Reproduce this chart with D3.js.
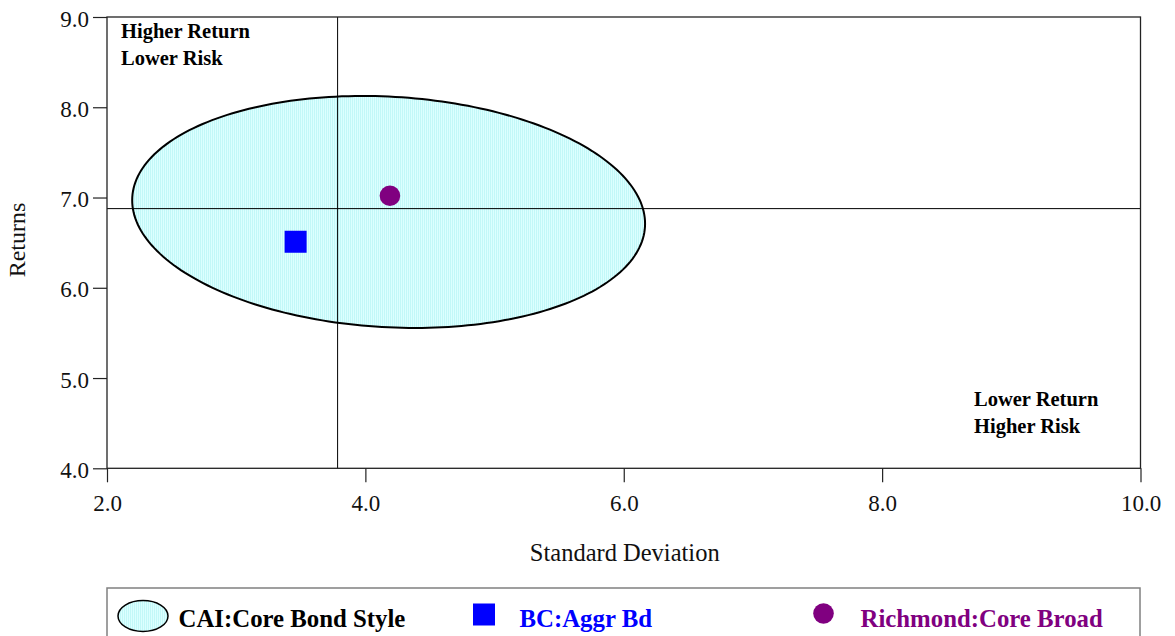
<!DOCTYPE html>
<html>
<head>
<meta charset="utf-8">
<script src="https://cdn.jsdelivr.net/npm/d3@7"></script>
<style>
  html, body { margin: 0; padding: 0; background: #fff; }
  svg { display: block; font-family: "Liberation Serif", "Times New Roman", serif; }
</style>
</head>
<body>
<svg id="chart" width="1175" height="636"></svg>
<script>
// ---- data ----
const xTicks = [2, 4, 6, 8, 10];
const yTicks = [4, 5, 6, 7, 8, 9];
const xDomain = [2, 10];
const yDomain = [4, 9];
const seriesNames = ["CAI:Core Bond Style", "BC:Aggr Bd", "Richmond:Core Broad"];
const pointNames = ["BC:Aggr Bd", "Richmond:Core Broad"];
const pointSD = [3.46, 4.19];
const pointReturn = [6.51, 7.02];
const ellipseCenter = [4.18, 6.84];      // [std dev, return]
const ellipseHalfWidth = 1.985;          // std dev units
const ellipseHalfHeight = 1.285;         // return units
const ellipseTilt = -0.13;               // return offset at the std-dev extremes
const crossSD = 3.785;
const crossReturn = 6.877;
const quadrantLabels = [["Higher Return", "Lower Risk"], ["Lower Return", "Higher Risk"]];

// ---- styles ----
const colors = { ellipse: "#ccffff", bc: "#0000ff", rich: "#800080" };

const svg = d3.select("#chart");
const L = 107, R = 1140.5, T = 17, B = 468.3;
const x = d3.scaleLinear().domain(xDomain).range([L, R]);
const y = d3.scaleLinear().domain(yDomain).range([B, T]);

// hatch pattern for ellipse
const defs = svg.append("defs");
const pat = defs.append("pattern").attr("id", "hatch").attr("patternUnits", "userSpaceOnUse")
  .attr("width", 2).attr("height", 4);
pat.append("rect").attr("width", 2).attr("height", 4).attr("fill", "#dcffff");
pat.append("rect").attr("width", 1).attr("height", 4).attr("fill", "#c2f8f8");

// ellipse outline computed from its centre and extents
const N = 240;
const k = Math.sqrt(ellipseHalfHeight * ellipseHalfHeight - ellipseTilt * ellipseTilt);
const ell = d3.range(N).map(i => {
  const t = 2 * Math.PI * i / N;
  return [ellipseCenter[0] + ellipseHalfWidth * Math.cos(t),
          ellipseCenter[1] + ellipseTilt * Math.cos(t) + k * Math.sin(t)];
});
const line = d3.line().x(d => x(d[0])).y(d => y(d[1])).curve(d3.curveLinearClosed);
svg.append("path").attr("d", line(ell)).attr("fill", "url(#hatch)")
  .attr("stroke", "#000").attr("stroke-width", 2);

// crosshair
svg.append("line").attr("x1", x(crossSD)).attr("x2", x(crossSD)).attr("y1", T).attr("y2", B)
  .attr("stroke", "#000").attr("stroke-width", 1);
svg.append("line").attr("x1", L).attr("x2", R).attr("y1", y(crossReturn)).attr("y2", y(crossReturn))
  .attr("stroke", "#000").attr("stroke-width", 1);

// points
svg.append("rect").attr("x", x(pointSD[0]) - 11).attr("y", y(pointReturn[0]) - 11)
  .attr("width", 22).attr("height", 22).attr("fill", colors.bc);
svg.append("circle").attr("cx", x(pointSD[1])).attr("cy", y(pointReturn[1])).attr("r", 10.3)
  .attr("fill", colors.rich);

// frame
svg.append("rect").attr("x", L).attr("y", T).attr("width", R - L).attr("height", B - T)
  .attr("fill", "none").attr("stroke", "#222").attr("stroke-width", 1.3);

// axes
const xAxis = svg.append("g").attr("transform", `translate(0,${B})`)
  .call(d3.axisBottom(x).tickValues(xTicks).tickFormat(d3.format(".1f")).tickSize(14).tickPadding(12));
const yAxis = svg.append("g").attr("transform", `translate(${L},0)`)
  .call(d3.axisLeft(y).tickValues(yTicks).tickFormat(d3.format(".1f")).tickSize(14).tickPadding(4));
[xAxis, yAxis].forEach(g => {
  g.select(".domain").remove();
  g.selectAll(".tick line").attr("stroke", "#222").attr("stroke-width", 1.2);
  g.selectAll("text").attr("font-family", "Liberation Serif").attr("font-size", 23).attr("fill", "#111");
});
yAxis.selectAll("text").attr("dy", "0.4em");

// axis titles
svg.append("text").attr("x", (L + R) / 2 + 1).attr("y", 561).attr("text-anchor", "middle")
  .attr("font-size", 24.5).attr("fill", "#111").text("Standard Deviation");
svg.append("text").attr("transform", "translate(25,240) rotate(-90)").attr("text-anchor", "middle")
  .attr("font-size", 24).attr("fill", "#111").text("Returns");

// quadrant labels
const qPos = [[121, 38], [974, 406]];
quadrantLabels.forEach((lines, i) => {
  lines.forEach((s, j) => {
    svg.append("text").attr("x", qPos[i][0]).attr("y", qPos[i][1] + j * 26.5)
      .attr("font-size", 20.5).attr("font-weight", "bold").attr("fill", "#000").text(s);
  });
});

// legend
svg.append("rect").attr("x", 107).attr("y", 588).attr("width", 1033).attr("height", 70)
  .attr("fill", "#fff").attr("stroke", "#808080").attr("stroke-width", 1.5);
svg.append("ellipse").attr("cx", 143).attr("cy", 616).attr("rx", 25).attr("ry", 15.5)
  .attr("fill", "url(#hatch)").attr("stroke", "#000").attr("stroke-width", 1.5);
svg.append("rect").attr("x", 473).attr("y", 603.5).attr("width", 22).attr("height", 22).attr("fill", colors.bc);
svg.append("circle").attr("cx", 823.5).attr("cy", 613.5).attr("r", 10.3).attr("fill", colors.rich);
const legX = [178.5, 519.5, 860.5];
const legC = ["#000", colors.bc, colors.rich];
seriesNames.forEach((s, i) => {
  svg.append("text").attr("x", legX[i]).attr("y", 626.5).attr("font-size", 24.8)
    .attr("font-weight", "bold").attr("fill", legC[i]).text(s);
});
</script>
</body>
</html>
